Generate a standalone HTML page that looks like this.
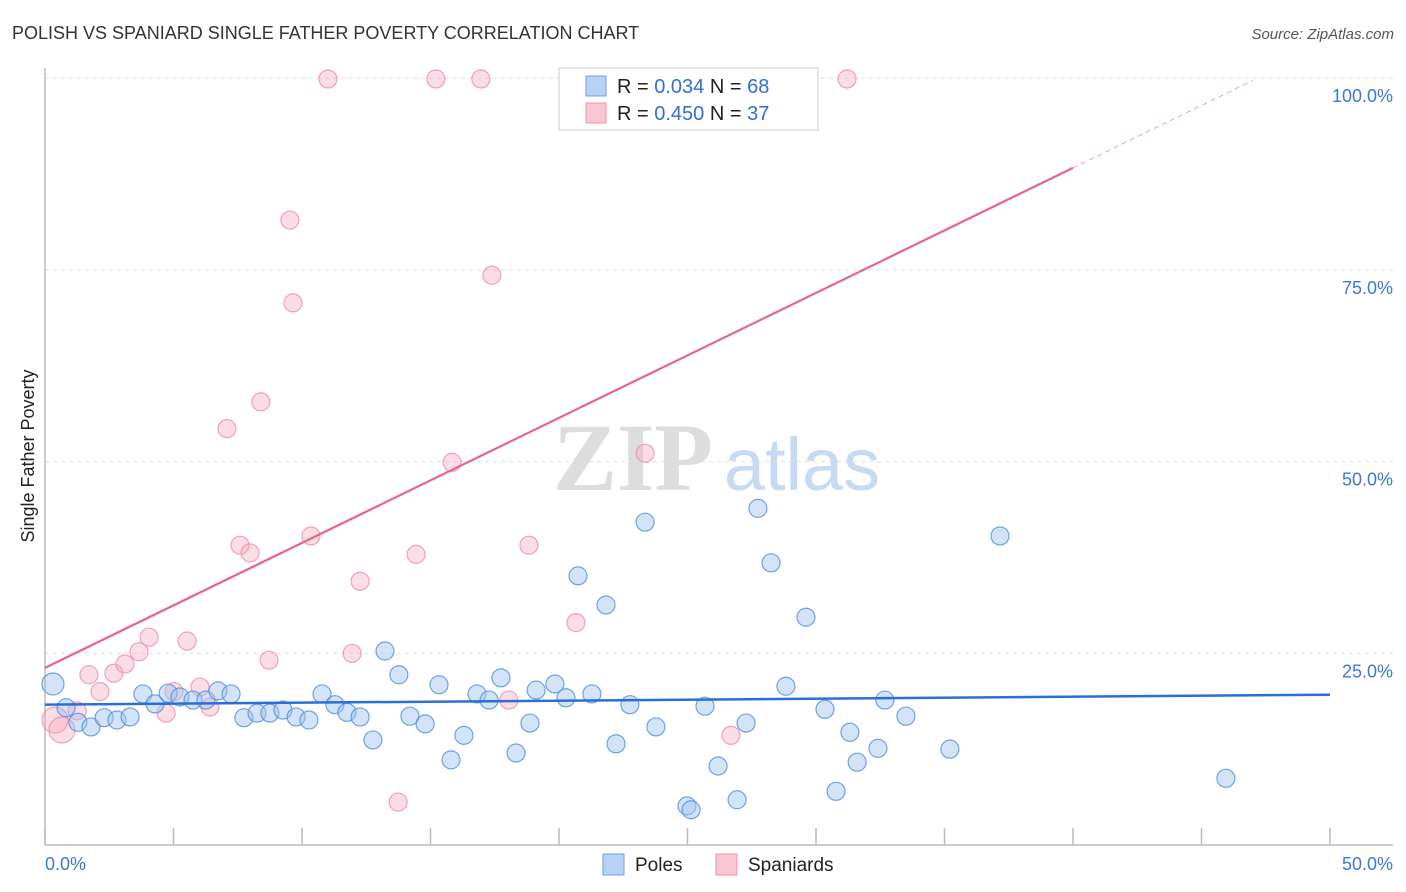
<!DOCTYPE html>
<html><head><meta charset="utf-8">
<style>
body{margin:0;background:#fff;font-family:"Liberation Sans",sans-serif;}
svg{display:block}
</style></head><body>
<svg id="chart" width="1406" height="892" xmlns="http://www.w3.org/2000/svg">
<text x="12" y="39" font-size="18" fill="#333">POLISH VS SPANIARD SINGLE FATHER POVERTY CORRELATION CHART</text>
<text x="1394" y="39" font-size="15" fill="#555" text-anchor="end" font-style="italic">Source: ZipAtlas.com</text>
<g>
<text x="633" y="490" font-size="96" fill="#ddd" text-anchor="middle" font-family="Liberation Serif,serif" font-weight="bold">ZIP</text>
<text x="802" y="490" font-size="74" fill="#c8daf2" text-anchor="middle">atlas</text>
</g>
<g id="grid"></g>
<g id="axes"></g>
<g id="marks"></g>
<g>
<rect x="559" y="68" width="259" height="62" fill="#fff" stroke="#ccc"/>
<rect x="586" y="76" width="20" height="20" fill="#b8d2f4" stroke="#6fa1e0"/>
<rect x="586" y="103" width="20" height="20" fill="#f9c6d4" stroke="#ec93ad"/>
<text x="617" y="93" font-size="20" fill="#222">R = <tspan fill="#2f6fd6">0.034</tspan>   N = <tspan fill="#2f6fd6">68</tspan></text>
<text x="617" y="120" font-size="20" fill="#222">R = <tspan fill="#2f6fd6">0.450</tspan>   N = <tspan fill="#2f6fd6">37</tspan></text>
</g>
<g>
<rect x="603" y="854" width="21" height="21" fill="#b8d2f4" stroke="#6fa1e0"/>
<text x="635" y="871" font-size="19" fill="#222">Poles</text>
<rect x="716" y="854" width="21" height="21" fill="#f9c6d4" stroke="#ec93ad"/>
<text x="748" y="871" font-size="19" fill="#222">Spaniards</text>
</g>
<text transform="translate(34,456) rotate(-90)" font-size="18" fill="#222" text-anchor="middle">Single Father Poverty</text>
</svg>
<script>
const yTicks=[25,50,75,100];
const yTickLabels=["25.0%","50.0%","75.0%","100.0%"];
const xTicks=[0,5,10,15,20,25,30,35,40,45,50];
const xEndLabels=["0.0%","50.0%"];
const polesX=[0.31,0.82,1.28,1.79,2.30,2.80,3.31,3.81,4.28,4.79,5.25,5.76,6.26,6.73,7.24,7.74,8.25,8.75,9.26,9.77,10.27,10.78,11.28,11.75,12.26,12.76,13.23,13.77,14.20,14.79,15.33,15.80,16.30,16.81,17.28,17.74,18.33,18.87,19.11,19.84,20.27,20.74,21.28,21.83,22.22,22.76,23.35,23.77,24.98,25.14,25.68,26.19,26.93,27.28,27.74,28.25,28.83,29.61,30.35,30.78,31.32,31.60,32.41,32.68,33.50,35.21,37.16,45.95];
const polesY=[21.0,17.9,16.0,15.4,16.6,16.3,16.7,19.7,18.4,19.8,19.3,18.9,18.9,20.1,19.7,16.6,17.2,17.2,17.6,16.7,16.3,19.7,18.3,17.3,16.7,13.7,25.3,22.2,16.8,15.8,20.9,11.1,14.3,19.7,18.9,21.8,12.0,15.9,20.2,21.0,19.2,35.1,19.7,31.3,13.2,18.3,42.1,15.4,5.1,4.6,18.1,10.3,5.9,15.9,43.9,36.8,20.7,29.7,17.7,7.0,14.7,10.8,12.6,18.9,16.8,12.5,40.3,8.7];
const spanX=[0.39,0.66,1.25,1.71,2.14,2.68,3.11,3.66,4.05,4.71,5.02,5.53,6.03,6.42,7.08,7.59,7.98,8.40,8.72,9.53,9.65,10.35,11.01,11.95,12.26,13.74,14.44,15.21,15.84,16.96,17.39,18.05,18.83,20.66,23.35,26.69,31.21];
const spanY=[16.3,15.0,17.5,22.2,20.0,22.4,23.6,25.2,27.1,17.2,20.0,26.6,20.6,18.0,54.3,39.1,38.1,57.8,24.1,81.5,70.7,40.3,99.9,25.0,34.4,5.6,37.9,99.9,49.9,99.9,74.3,18.9,39.1,29.0,51.1,14.3,99.9];
const polesTrend=[18.3,19.6];
const spanTrend=[23.1,1.63];
const NS="http://www.w3.org/2000/svg";
const X=v=>45+v*25.7, Y=v=>845-v*7.668;
function mk(tag,attrs,parent){const e=document.createElementNS(NS,tag);for(const k in attrs)e.setAttribute(k,attrs[k]);parent.appendChild(e);return e;}
const grid=document.getElementById('grid'),axes=document.getElementById('axes'),marks=document.getElementById('marks');
yTicks.forEach((t,i)=>{
 const l=mk('line',{x1:45,x2:1393,y1:Y(t),y2:Y(t),stroke:'#ddd','stroke-dasharray':'4,4'},grid);
 
 
 const tx=mk('text',{x:1393,y:Y(t)+24,'font-size':18,fill:'#3b78d8','text-anchor':'end'},axes);
 tx.textContent=yTickLabels[i];
 
 
});
const ax=mk('line',{x1:45,x2:1393,y1:845,y2:845,stroke:'#bbb','stroke-width':1.5},axes);


const ay=mk('line',{x1:45,x2:45,y1:68,y2:845,stroke:'#bbb','stroke-width':1.5},axes);


xTicks.forEach(t=>{
 const l=mk('line',{x1:X(t),x2:X(t),y1:828,y2:845,stroke:'#bbb','stroke-width':1.5},axes);
 
 
});
const xl0=mk('text',{x:45,y:870,'font-size':18,fill:'#3b78d8'},axes);xl0.textContent=xEndLabels[0];


const xl1=mk('text',{x:1393,y:870,'font-size':18,fill:'#3b78d8','text-anchor':'end'},axes);xl1.textContent=xEndLabels[1];


spanX.forEach((x,i)=>{
 const c=mk('circle',{cx:X(x),cy:Y(spanY[i]),r:i<2?13:9,fill:'rgba(246,170,192,0.4)',stroke:'rgba(236,140,170,0.8)','stroke-width':1.2},marks);
 
 
});
polesX.forEach((x,i)=>{
 const c=mk('circle',{cx:X(x),cy:Y(polesY[i]),r:i==0?11:9,fill:'rgba(160,195,240,0.45)',stroke:'rgba(80,140,220,0.8)','stroke-width':1.2},marks);
 
 
});
const pt=mk('line',{x1:X(0),y1:Y(polesTrend[0]),x2:X(50),y2:Y(polesTrend[1]),stroke:'#2a6fd6','stroke-width':2.5},marks);


const st=mk('line',{x1:X(0),y1:Y(spanTrend[0]),x2:X(40),y2:Y(spanTrend[0]+40*spanTrend[1]),stroke:'#e8628e','stroke-width':2.2},marks);


const sd=mk('line',{x1:X(40),y1:Y(spanTrend[0]+40*spanTrend[1]),x2:X(47),y2:Y(spanTrend[0]+47*spanTrend[1]),stroke:'#f0a0b8','stroke-width':1,'stroke-dasharray':'5,4'},marks);


</script>
</body></html>
